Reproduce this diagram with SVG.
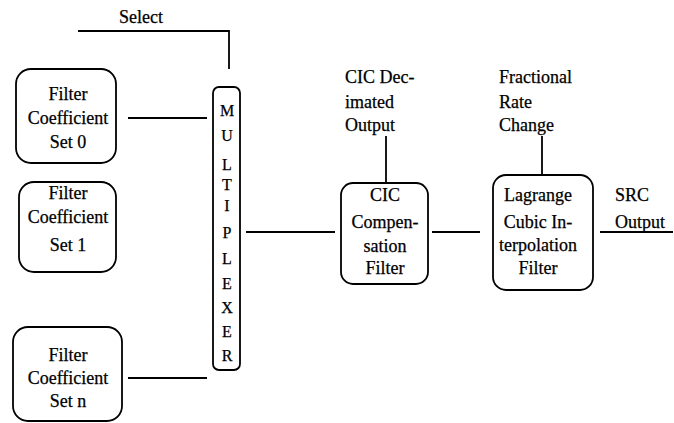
<svg xmlns="http://www.w3.org/2000/svg" width="674" height="423" viewBox="0 0 674 423">
<style>
.b{fill:#fff;stroke:#000;stroke-width:1.8}
.l{fill:none;stroke:#000;stroke-width:1.8}
text{font-family:"Liberation Serif","Times New Roman",serif;font-size:18px;fill:#000;stroke:#000;stroke-width:0.25}
.c{text-anchor:middle}
.m{font-size:16px}
</style>
<rect width="674" height="423" fill="#fff"/>
<g id="connectors">
<polyline class="l" points="78,31 229,31 229,69"/>
<line class="l" x1="128" y1="118" x2="207" y2="118"/>
<line class="l" x1="128" y1="378" x2="207" y2="378"/>
<line class="l" x1="246" y1="232" x2="335" y2="232"/>
<line class="l" x1="386" y1="136" x2="386" y2="183"/>
<line class="l" x1="432" y1="232" x2="480" y2="232"/>
<line class="l" x1="542" y1="136" x2="542" y2="175"/>
<line class="l" x1="600" y1="232" x2="673" y2="232"/>
</g>
<g id="select-label"><text x="141" y="23" class="c">Select</text></g>
<g id="set0">
<rect class="b" x="16" y="69" width="100" height="94" rx="15"/>
<text x="68" y="100" class="c">Filter</text>
<text x="68" y="124" class="c">Coefficient</text>
<text x="68" y="148" class="c">Set 0</text>
</g>
<g id="set1">
<rect class="b" x="19" y="182" width="97" height="90" rx="15"/>
<text x="68" y="199" class="c">Filter</text>
<text x="68" y="223" class="c">Coefficient</text>
<text x="68" y="251" class="c">Set 1</text>
</g>
<g id="setn">
<rect class="b" x="13" y="327" width="109" height="94" rx="15"/>
<text x="68" y="361" class="c">Filter</text>
<text x="68" y="384" class="c">Coefficient</text>
<text x="68" y="407" class="c">Set n</text>
</g>
<g id="mux">
<rect class="b" x="213" y="87" width="27" height="283" rx="6"/>
<text x="227" y="116" class="c m">M</text>
<text x="227" y="141" class="c m">U</text>
<text x="227" y="170" class="c m">L</text>
<text x="227" y="190" class="c m">T</text>
<text x="227" y="211" class="c m">I</text>
<text x="227" y="238" class="c m">P</text>
<text x="227" y="264" class="c m">L</text>
<text x="227" y="289" class="c m">E</text>
<text x="227" y="313" class="c m">X</text>
<text x="227" y="337" class="c m">E</text>
<text x="227" y="361" class="c m">R</text>
</g>
<g id="cic-out-label">
<text x="345" y="83">CIC Dec-</text>
<text x="345" y="108">imated</text>
<text x="345" y="131">Output</text>
</g>
<g id="cic">
<rect class="b" x="341" y="183" width="87" height="101" rx="12"/>
<text x="385" y="201" class="c">CIC</text>
<text x="385" y="228" class="c">Compen-</text>
<text x="385" y="252" class="c">sation</text>
<text x="385" y="274" class="c">Filter</text>
</g>
<g id="frac-label">
<text x="499" y="83">Fractional</text>
<text x="499" y="108">Rate</text>
<text x="499" y="131">Change</text>
</g>
<g id="lagrange">
<rect class="b" x="493" y="175" width="100" height="115" rx="13"/>
<text x="538" y="201" class="c">Lagrange</text>
<text x="538" y="228" class="c">Cubic In-</text>
<text x="538" y="251" class="c">terpolation</text>
<text x="538" y="274" class="c">Filter</text>
</g>
<g id="src-label">
<text x="615" y="201">SRC</text>
<text x="615" y="228">Output</text>
</g>
</svg>
